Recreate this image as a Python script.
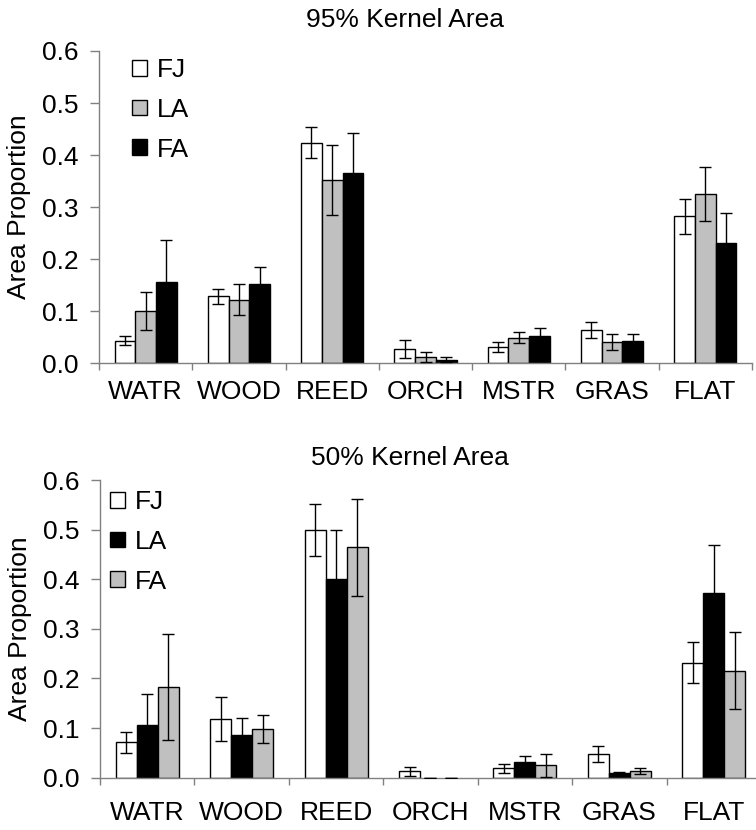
# coding: utf-8
#################################################################################
#
# Habitat area proportions within 95% / 50% kernel home ranges
#
#################################################################################

import  numpy 				as 	np
import 	matplotlib
matplotlib.use('Agg')
import 	matplotlib.pyplot 	as 	plt
from 	matplotlib.ticker 	import FormatStrFormatter, FixedLocator

#################################################################################
# data
#################################################################################
habitats = ['WATR', 'WOOD', 'REED', 'ORCH', 'MSTR', 'GRAS', 'FLAT']
groups   = ['FJ', 'LA', 'FA']

# 95% kernel
k95_FJ     = [0.043, 0.128, 0.424, 0.027, 0.031, 0.064, 0.282]
k95_FJ_err = [0.009, 0.015, 0.030, 0.018, 0.009, 0.015, 0.033]
k95_LA     = [0.100, 0.122, 0.352, 0.012, 0.049, 0.040, 0.325]
k95_LA_err = [0.037, 0.029, 0.067, 0.010, 0.011, 0.015, 0.051]
k95_FA     = [0.155, 0.152, 0.365, 0.006, 0.052, 0.043, 0.230]
k95_FA_err = [0.082, 0.033, 0.078, 0.005, 0.015, 0.012, 0.058]

# 50% kernel
k50_FJ     = [0.071, 0.118, 0.499, 0.013, 0.019, 0.048, 0.232]
k50_FJ_err = [0.022, 0.044, 0.053, 0.009, 0.009, 0.016, 0.042]
k50_LA     = [0.106, 0.087, 0.401, 0.000, 0.032, 0.009, 0.373]
k50_LA_err = [0.062, 0.034, 0.098, 0.000, 0.012, 0.003, 0.095]
k50_FA     = [0.182, 0.098, 0.464, 0.000, 0.025, 0.013, 0.216]
k50_FA_err = [0.107, 0.029, 0.098, 0.000, 0.023, 0.006, 0.077]

WHITE = 'white'
GRAY  = '#c0c0c0'
BLACK = 'black'
FS    = 19

plt.rcParams['font.family'] = ['Liberation Sans', 'DejaVu Sans']

#################################################################################
# one panel
#################################################################################
def panel( fig, rect, title, title_x, title_y, series, colors, leg_xy, xpad ):
	ax = fig.add_axes( rect )
	x  = np.arange( len(habitats) )
	w  = 1.0 / 4.5
	offs = [ -w, 0.0, w ]

	bars = []
	for (vals, errs), col, off, name in zip( series, colors, offs, groups ):
		lw = [ 0.0 if v == 0 else 1.0 for v in vals ]
		b = ax.bar( x + off, vals, w, color=col, edgecolor='black',
				linewidth=lw, label=name, zorder=2 )
		bars.append( b )
	for (vals, errs), off in zip( series, offs ):
		ax.errorbar( x + off, vals, yerr=errs, fmt='none', ecolor='black',
				elinewidth=1.0, capsize=4, capthick=1.0, zorder=3 )

	ax.set_xlim( -0.5, len(habitats) - 0.5 )
	ax.set_ylim( 0.0, 0.6 )
	ax.set_yticks( np.arange(0, 0.61, 0.1) )
	ax.yaxis.set_major_formatter( FormatStrFormatter('%.1f') )

	# labels at group centres, tick marks at group boundaries
	ax.set_xticks( x )
	ax.set_xticklabels( habitats )
	ax.xaxis.set_minor_locator( FixedLocator( np.arange(-0.5, len(habitats), 1.0) ) )
	ax.tick_params( axis='x', which='major', length=0, pad=xpad, labelsize=FS )
	ax.tick_params( axis='x', which='minor', length=5, width=1, color='#808080', direction='out' )
	ax.tick_params( axis='y', length=6.5, width=1, color='#808080', pad=8, labelsize=FS )

	for s in ['top', 'right']:
		ax.spines[s].set_visible( False )
	for s in ['left', 'bottom']:
		ax.spines[s].set_color( '#808080' )
		ax.spines[s].set_linewidth( 1.0 )

	ax.set_ylabel( 'Area Proportion', fontsize=FS, labelpad=8 )
	fig.text( title_x, title_y, title, ha='center', va='baseline', fontsize=FS )

	ax.legend( handles=bars, loc='upper left', bbox_to_anchor=leg_xy,
			bbox_transform=fig.transFigure, frameon=False, fontsize=FS,
			borderpad=0, borderaxespad=0, handlelength=0.55, handleheight=0.55,
			handletextpad=0.38, labelspacing=0.6 )
	return ax

#################################################################################
# MAIN
#################################################################################
if __name__ == '__main__':
	fig = plt.figure( figsize=(7.56, 8.30), dpi=100 )

	panel( fig, [99/756, 1 - 363/830, 653/756, 312/830], '95% Kernel Area',
			405/756, 1 - 27/830,
			[ (k95_FJ, k95_FJ_err), (k95_LA, k95_LA_err), (k95_FA, k95_FA_err) ],
			[ WHITE, GRAY, BLACK ], (132/756, 1 - 58/830), 12 )

	panel( fig, [100/756, 1 - 777.7/830, 661/756, 297.7/830], '50% Kernel Area',
			410/756, 1 - 465/830,
			[ (k50_FJ, k50_FJ_err), (k50_LA, k50_LA_err), (k50_FA, k50_FA_err) ],
			[ WHITE, BLACK, GRAY ], (110/756, 1 - 490/830), 17 )

	fig.savefig( 'out.png', dpi=100 )
